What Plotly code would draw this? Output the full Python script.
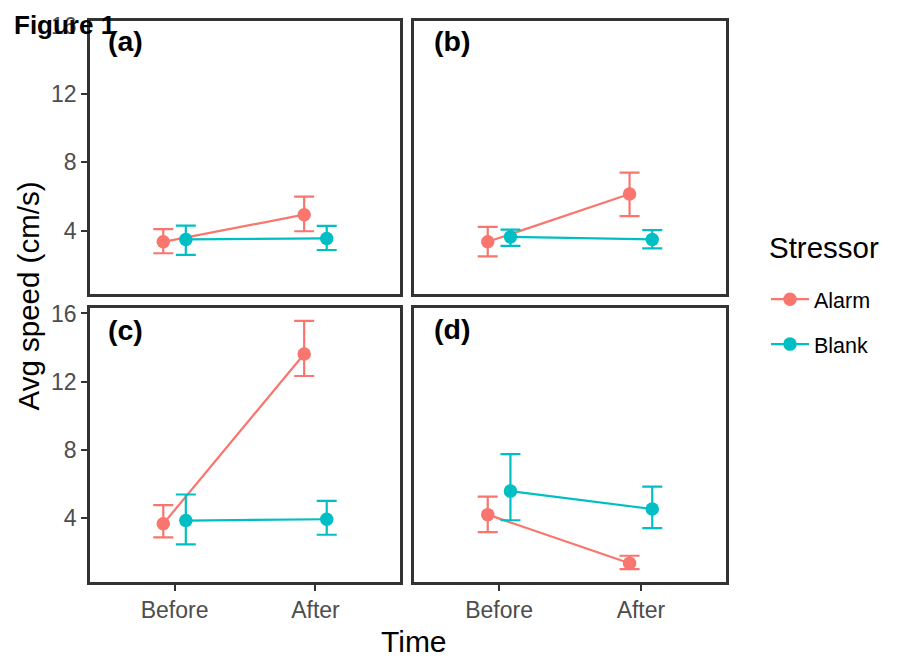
import plotly.graph_objects as go

# ---- data ----
time_labels = ["Before", "After"]
panel_labels = ["(a)", "(b)", "(c)", "(d)"]
series_names = ["Alarm", "Blank"]

# each inner list: [Before, After] for panels a, b, c, d
alarm_mean  = [[3.34, 4.93], [3.34, 6.14], [3.66, 13.62], [4.20, 1.35]]
alarm_upper = [[4.08, 5.99], [4.21, 7.40], [4.76, 15.57], [5.26, 1.79]]
alarm_lower = [[2.67, 3.96], [2.48, 4.85], [2.87, 12.33], [3.18, 1.00]]
blank_mean  = [[3.48, 3.54], [3.63, 3.48], [3.85, 3.93], [5.58, 4.53]]
blank_upper = [[4.29, 4.27], [4.06, 4.02], [5.38, 5.01], [7.75, 5.84]]
blank_lower = [[2.57, 2.86], [3.10, 2.96], [2.46, 3.02], [3.87, 3.41]]

y_ticks = [4, 8, 12, 16]

colors = {"Alarm": "#F8766D", "Blank": "#00BFC4"}
dodge = {"Alarm": -0.08, "Blank": 0.08}

W, H = 898, 662
FONT = "Liberation Sans, Arial, Helvetica, sans-serif"

# panel pixel boxes (left, right, top, bottom)
boxes = [(90, 400, 13, 290), (414, 726, 13, 290), (90, 400, 304, 581), (414, 726, 304, 581)]

fig = go.Figure()

series_data = {
    "Alarm": (alarm_mean, alarm_upper, alarm_lower),
    "Blank": (blank_mean, blank_upper, blank_lower),
}

for p in range(4):
    suffix = "" if p == 0 else str(p + 1)
    for name in series_names:
        mean, upper, lower = series_data[name]
        m = mean[p]
        xs = [i + 1 + dodge[name] for i in range(len(time_labels))]
        fig.add_trace(go.Scatter(
            x=xs, y=m,
            mode="lines+markers",
            name=name,
            legendgroup=name,
            showlegend=(p == 0),
            line=dict(color=colors[name], width=2.2),
            marker=dict(color=colors[name], size=13.5),
            error_y=dict(
                type="data", symmetric=False,
                array=[u - v for u, v in zip(upper[p], m)],
                arrayminus=[v - l for v, l in zip(m, lower[p])],
                color=colors[name], thickness=2.2, width=10,
            ),
            xaxis="x" + suffix, yaxis="y" + suffix,
        ))

layout = dict(
    width=W, height=H,
    margin=dict(l=0, r=0, t=0, b=0),
    paper_bgcolor="white", plot_bgcolor="white",
    font=dict(family=FONT, color="black"),
    showlegend=True,
    legend=dict(
        x=766 / W, y=1 - 274 / H, xanchor="left", yanchor="top",
        font=dict(size=21.5, color="black"),
        tracegroupgap=14,
        itemwidth=38,
        bgcolor="rgba(0,0,0,0)",
    ),
)

for p, (l, r, t, b) in enumerate(boxes):
    suffix = "" if p == 0 else str(p + 1)
    left_col = p in (0, 2)
    bottom_row = p in (2, 3)
    xa = dict(
        domain=[l / W, r / W], range=[0.4, 2.6],
        anchor="y" + suffix,
        showgrid=False, zeroline=False,
        showline=True, mirror=True, linecolor="#333333", linewidth=2.5,
        tickmode="array", tickvals=[1, 2], ticktext=time_labels,
        showticklabels=bottom_row,
        ticks="outside" if bottom_row else "",
        ticklen=6, tickwidth=2, tickcolor="#333333",
        tickfont=dict(size=23, color="#4D4D4D", family=FONT),
    )
    ya = dict(
        domain=[1 - b / H, 1 - t / H], range=[0.25, 16.3],
        anchor="x" + suffix,
        showgrid=False, zeroline=False,
        showline=True, mirror=True, linecolor="#333333", linewidth=2.5,
        tickmode="array", tickvals=y_ticks,
        showticklabels=left_col,
        ticks="outside" if left_col else "",
        ticklen=6, tickwidth=2, tickcolor="#333333",
        tickfont=dict(size=23, color="#4D4D4D", family=FONT),
    )
    layout["xaxis" + suffix] = xa
    layout["yaxis" + suffix] = ya

fig.update_layout(**layout)

annotations = []
label_pos = [(106, 33), (432, 33), (106, 326), (432, 325)]
for lab, (px, py) in zip(panel_labels, label_pos):
    annotations.append(dict(
        text="<b>%s</b>" % lab, x=px / W, y=1 - py / H, xref="paper", yref="paper",
        xanchor="left", yanchor="middle", showarrow=False,
        font=dict(size=28.5, color="black", family=FONT),
    ))
annotations.append(dict(
    text="<b>Figure 1</b>", x=12 / W, y=1 - 17 / H, xref="paper", yref="paper",
    xanchor="left", yanchor="middle", showarrow=False,
    font=dict(size=26, color="black", family=FONT),
))
annotations.append(dict(
    text="Stressor", x=767 / W, y=1 - 242 / H, xref="paper", yref="paper",
    xanchor="left", yanchor="middle", showarrow=False,
    font=dict(size=29.5, color="black", family=FONT),
))
annotations.append(dict(
    text="Avg speed (cm/s)", x=28 / W, y=1 - 292 / H, xref="paper", yref="paper",
    xanchor="center", yanchor="middle", showarrow=False, textangle=-90,
    font=dict(size=29.5, color="black", family=FONT),
))
annotations.append(dict(
    text="Time", x=414 / W, y=1 - 641 / H, xref="paper", yref="paper",
    xanchor="center", yanchor="middle", showarrow=False,
    font=dict(size=30, color="black", family=FONT),
))
fig.update_layout(annotations=annotations)

fig.write_html("out.html")
